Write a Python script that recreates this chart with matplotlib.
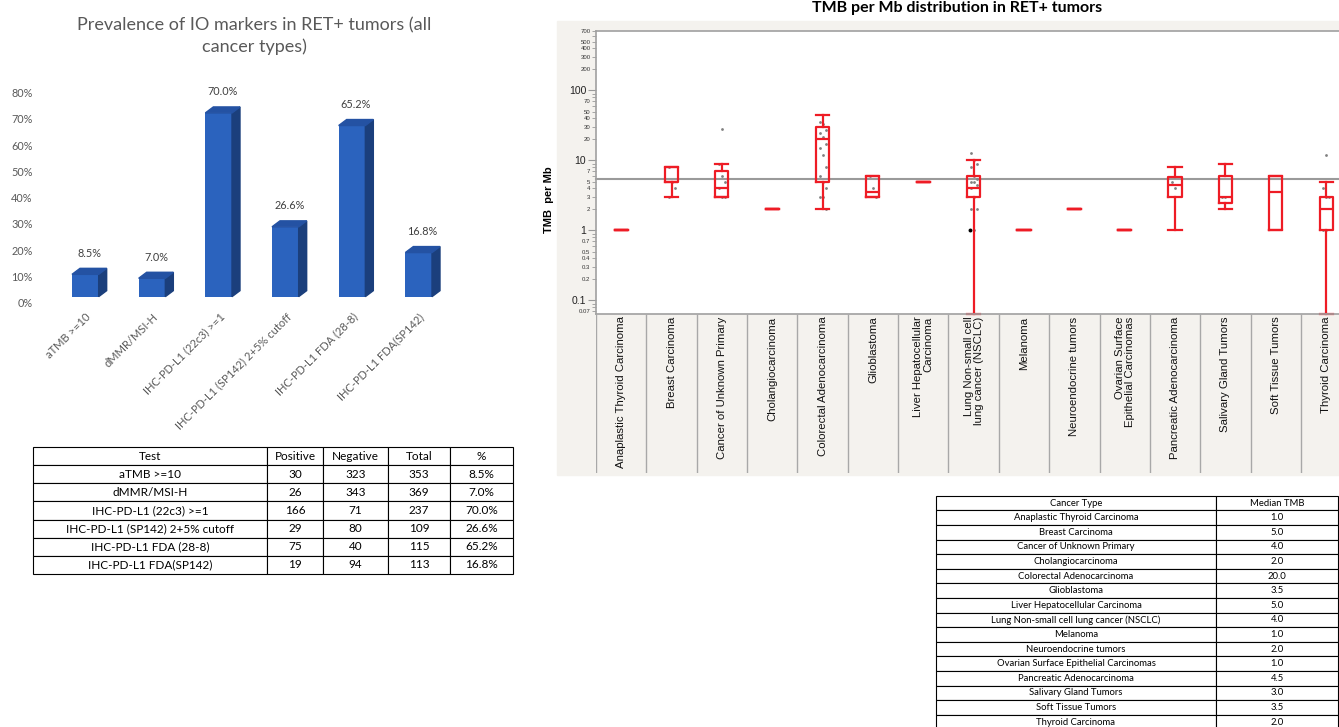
import matplotlib
matplotlib.use('Agg')
import matplotlib.pyplot as plt
from matplotlib.patches import Polygon, Rectangle
from matplotlib.ticker import FixedLocator, FuncFormatter
import numpy as np

# ---- left panel: IO markers ----
tests = ['aTMB >=10', 'dMMR/MSI-H', 'IHC-PD-L1 (22c3) >=1',
         'IHC-PD-L1 (SP142) 2+5% cutoff', 'IHC-PD-L1 FDA (28-8)', 'IHC-PD-L1 FDA(SP142)']
positive = [30, 26, 166, 29, 75, 19]
negative = [323, 343, 71, 80, 40, 94]
total = [353, 369, 237, 109, 115, 113]
pct = [8.5, 7.0, 70.0, 26.6, 65.2, 16.8]

# ---- right panel: TMB per Mb ----
cancer_types = ['Anaplastic Thyroid Carcinoma', 'Breast Carcinoma', 'Cancer of Unknown Primary',
                'Cholangiocarcinoma', 'Colorectal Adenocarcinoma', 'Glioblastoma',
                'Liver Hepatocellular Carcinoma', 'Lung Non-small cell lung cancer (NSCLC)',
                'Melanoma', 'Neuroendocrine tumors', 'Ovarian Surface Epithelial Carcinomas',
                'Pancreatic Adenocarcinoma', 'Salivary Gland Tumors', 'Soft Tissue Tumors',
                'Thyroid Carcinoma']
axis_labels = ['Anaplastic Thyroid Carcinoma', 'Breast Carcinoma', 'Cancer of Unknown Primary',
               'Cholangiocarcinoma', 'Colorectal Adenocarcinoma', 'Glioblastoma',
               'Liver Hepatocellular\nCarcinoma', 'Lung Non-small cell\nlung cancer (NSCLC)',
               'Melanoma', 'Neuroendocrine tumors', 'Ovarian Surface\nEpithelial Carcinomas',
               'Pancreatic Adenocarcinoma', 'Salivary Gland Tumors', 'Soft Tissue Tumors',
               'Thyroid Carcinoma']
median_tmb = [1.0, 5.0, 4.0, 2.0, 20.0, 3.5, 5.0, 4.0, 1.0, 2.0, 1.0, 4.5, 3.0, 3.5, 2.0]
q1 = [1, 5, 3, 2, 5, 3, 5, 3, 1, 2, 1, 3, 2.5, 1, 1]
q3 = [1, 8, 7, 2, 30, 6, 5, 6, 1, 2, 1, 5.8, 6, 6, 3]
whis_lo = [1, 3, 3, 2, 2, 3, 5, 0.065, 1, 2, 1, 1, 2, 1, 0.065]
whis_hi = [1, 8, 9, 2, 44, 6, 5, 10, 1, 2, 1, 8, 9, 6, 5]
outliers = [[], [], [28], [], [], [], [], [], [], [], [], [], [], [], [12]]
points = [[], [8, 5, 4, 3], [9, 6, 5, 4, 3, 3], [],
          [36, 33, 27, 25, 22, 17, 15, 12, 8, 6, 5, 4, 3, 3, 2],
          [6, 4, 3], [], [13, 10, 9, 8, 6, 5.5, 5, 5, 4.5, 4, 3, 2, 2, 1],
          [], [], [], [5, 4], [3, 3], [], [4, 3, 3, 1, 1]]
nsclc_black = [1.0]
ref_line = 5.48

W, H = 1339, 727
fig = plt.figure(figsize=(W / 100, H / 100), dpi=100)


def px_axes(x0, y0, x1, y1, **kw):
    return fig.add_axes([x0 / W, 1 - y1 / H, (x1 - x0) / W, (y1 - y0) / H], **kw)


# ================= bar chart =================
front = '#2b63be'
side = '#1b3f7c'
topc = '#2452a3'
grey_txt = '#595959'
lf = 'Lato'

ax = px_axes(52, 79.6, 452, 302.7)
x = np.arange(len(tests))
w = 0.4
floor = 2.3
dx, dy = 0.12, 2.29
ax.bar(x, pct, width=w, bottom=floor, color=front, zorder=2)
for xi, v in zip(x, pct):
    r = xi + w / 2
    l = xi - w / 2
    t = floor + v
    ax.add_patch(Polygon([(r, floor), (r + dx, floor + dy), (r + dx, t + dy), (r, t)],
                         closed=True, color=side, zorder=2))
    ax.add_patch(Polygon([(l, t), (l + dx, t + dy), (r + dx, t + dy), (r, t)],
                         closed=True, color=topc, zorder=2))
    ax.annotate('%.1f%%' % v, (xi + dx / 2, t + dy), xytext=(0, 7), textcoords='offset points',
                ha='center', va='bottom', fontsize=7.8, color='#404040', family=lf)
ax.set_xlim(-0.5, 5.5)
ax.set_ylim(0, 85)
ax.set_yticks(np.arange(0, 81, 10))
ax.set_yticklabels(['%d%%' % v for v in range(0, 81, 10)], fontsize=7.8, color=grey_txt, family=lf)
ax.set_xticks(x)
ax.set_xticklabels(tests, rotation=45, ha='right', rotation_mode='anchor',
                   fontsize=8, color=grey_txt, family=lf)
ax.tick_params(axis='y', length=0, pad=14)
ax.tick_params(axis='x', length=0, pad=6)
for s in ax.spines.values():
    s.set_visible(False)
ax.patch.set_alpha(0)

fig.text(254 / W, 1 - 36 / H, 'Prevalence of IO markers in RET+ tumors (all\ncancer types)',
         ha='center', va='center', fontsize=13, color=grey_txt, family=lf, linespacing=1.35)

# ================= table 1 =================
tax = px_axes(33, 447, 513, 574)
tax.axis('off')
rows = [[t, str(p), str(n), str(tt), '%.1f%%' % v]
        for t, p, n, tt, v in zip(tests, positive, negative, total, pct)]
cw = np.array([234, 56, 65, 62, 63], dtype=float)
tbl = tax.table(cellText=rows, colLabels=['Test', 'Positive', 'Negative', 'Total', '%'],
                cellLoc='center', colWidths=list(cw / cw.sum()), bbox=[0, 0, 1, 1])
tbl.auto_set_font_size(False)
tbl.set_fontsize(8.5)
for c in tbl.get_celld().values():
    c.set_linewidth(0.8)
    c.get_text().set_family(lf)

# ================= box plot =================
beige = '#f4f2ee'
fig.patches.append(Rectangle((557 / W, 1 - 475 / H), (W - 557) / W, (475 - 21) / H,
                             transform=fig.transFigure, color=beige, zorder=-10))
red = '#ee1c25'
af = 'Liberation Sans'
n = len(cancer_types)
pos = np.arange(1, n + 1)
x_right = 596 + 15 * 50.35

bx = px_axes(596, 31, x_right, 314)
bx.set_zorder(2)
bx.set_facecolor('white')
bx.set_yscale('log')
bx.axhline(ref_line, color='#9a9a9a', lw=1.5, zorder=1)
for i, pts in enumerate(points):
    offs = [((k % 3) - 1) * 0.06 for k in range(len(pts))]
    bx.scatter(pos[i] + np.array(offs), pts, s=4, color='#808080', zorder=2, lw=0)
bx.scatter([pos[7] - 0.08] * len(nsclc_black), nsclc_black, s=8, color='black', zorder=4, lw=0)
stats = []
for i in range(n):
    stats.append(dict(med=median_tmb[i], q1=q1[i], q3=q3[i], whislo=whis_lo[i],
                      whishi=whis_hi[i], fliers=outliers[i]))
bw = 0.26
bx.bxp(stats, positions=pos, widths=bw, capwidths=bw, showfliers=True,
       boxprops=dict(color=red, lw=1.6), whiskerprops=dict(color=red, lw=1.6),
       capprops=dict(color=red, lw=1.6), medianprops=dict(color=red, lw=1.6),
       flierprops=dict(marker='o', ms=2, mfc='#808080', mec='none'), manage_ticks=False)
for a in bx.lines:
    a.set_clip_on(False)
bx.set_xlim(0.5, n + 0.5)
bx.set_ylim(0.0641, 708)
bx.set_xticks([])
major = [0.1, 1, 10, 100]
minor = [m * 10.0 ** e for e in range(-2, 3) for m in range(2, 10)]
minor = [v for v in minor if 0.065 < v < 710]
minor_lab = [0.07, 0.2, 0.3, 0.4, 0.5, 0.7, 2, 3, 4, 5, 7, 20, 30, 40, 50, 70,
             200, 300, 400, 500, 700]
bx.yaxis.set_major_locator(FixedLocator(major))
bx.yaxis.set_minor_locator(FixedLocator(minor))
bx.yaxis.set_major_formatter(FuncFormatter(lambda v, p: '%g' % v))
bx.yaxis.set_minor_formatter(FuncFormatter(
    lambda v, p: ('%g' % v) if any(abs(v - m) < 1e-9 * max(m, 1) for m in minor_lab) else ''))
bx.tick_params(axis='y', which='major', length=6, width=0.8, color='#999999',
               labelsize=7.5, labelcolor='#222222', pad=1)
bx.tick_params(axis='y', which='minor', length=3, width=0.6, color='#999999',
               labelsize=4.3, labelcolor='#333333', pad=1)
for lab in bx.get_yticklabels(which='both'):
    lab.set_family(af)
for s in bx.spines.values():
    s.set_color('#a0a0a0')
    s.set_linewidth(1.2)

# category cells under the plot
lx = px_axes(596, 314, x_right, 473)
lx.set_zorder(2)
lx.set_xlim(0.5, n + 0.5)
lx.set_ylim(0, 1)
lx.axis('off')
lx.vlines(np.arange(0.5, n + 1), 0, 1, color='#a8a8a8', lw=1)
for p, lab in zip(pos, axis_labels):
    lx.text(p, 0.985, lab, rotation=90, ha='center', va='top', multialignment='right',
            fontsize=8.2, family=af, color='#111111', linespacing=1.0)

fig.text(549 / W, 1 - 200 / H, 'TMB  per Mb', rotation=90, ha='center', va='center',
         fontsize=8, fontweight='bold', family=af)
fig.text(957 / W, 1 - 1 / H, 'TMB per Mb distribution in RET+ tumors', ha='center',
         va='top', fontsize=11.5, fontweight='bold', family=lf)

# ================= table 2 =================
t2 = px_axes(936, 495.7, 1338, 729.5)
t2.axis('off')
rows2 = [[c, '%.1f' % m] for c, m in zip(cancer_types, median_tmb)]
cw2 = np.array([280, 122], dtype=float)
tbl2 = t2.table(cellText=rows2, colLabels=['Cancer Type', 'Median TMB'], cellLoc='center',
                colWidths=list(cw2 / cw2.sum()), bbox=[0, 0, 1, 1])
tbl2.auto_set_font_size(False)
tbl2.set_fontsize(6.8)
for c in tbl2.get_celld().values():
    c.set_linewidth(0.8)
    c.get_text().set_family(lf)

fig.savefig('out.png', dpi=100)
